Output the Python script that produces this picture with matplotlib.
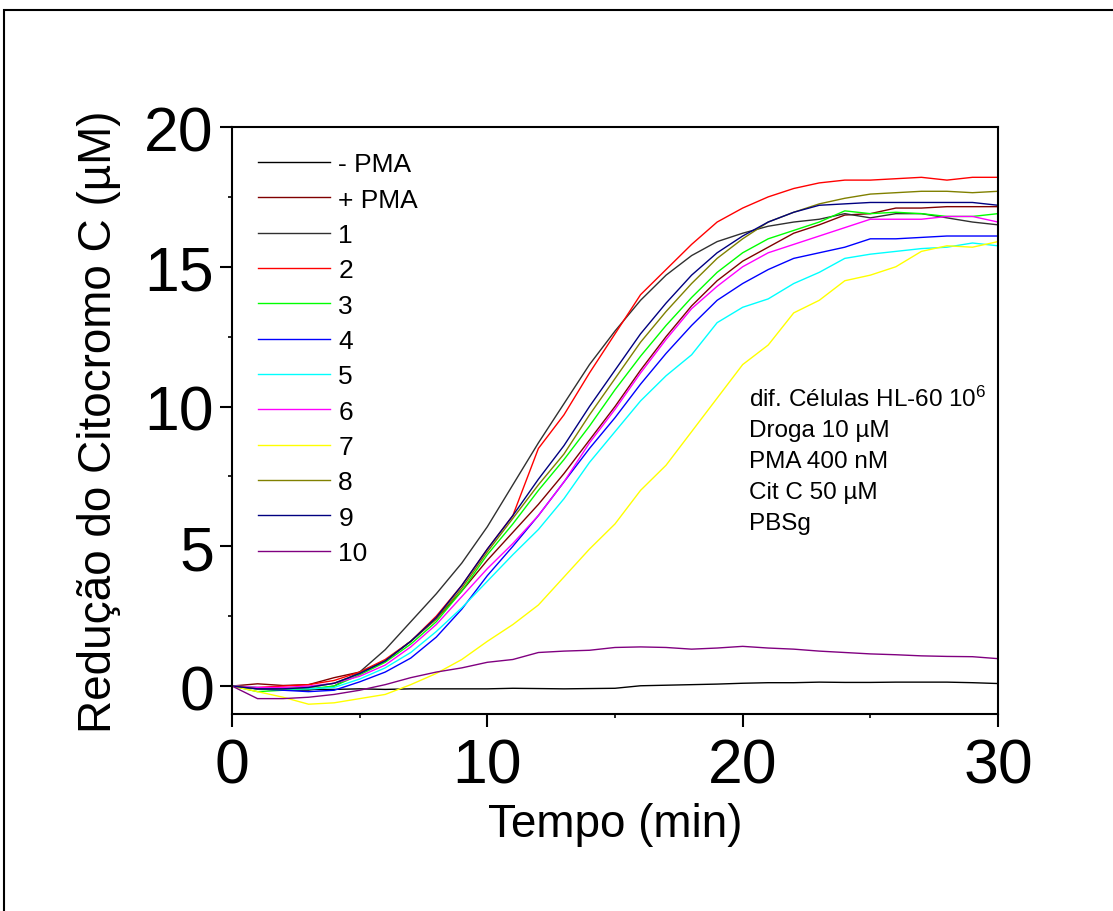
import numpy as np
import matplotlib
matplotlib.use("Agg")
import matplotlib.pyplot as plt
from matplotlib.patches import Rectangle
from matplotlib.ticker import MultipleLocator

plt.rcParams['font.family'] = ['Liberation Sans', 'DejaVu Sans']
plt.rcParams['mathtext.fontset'] = 'custom'
plt.rcParams['mathtext.rm'] = 'Liberation Sans'
plt.rcParams['mathtext.default'] = 'regular'

# time (min), one reading per minute
tempo = np.arange(0, 31)

minus_pma = [0, -0.08, -0.15, -0.12, -0.12, -0.1, -0.12, -0.1, -0.1, -0.1, -0.1,
             -0.08, -0.09, -0.1, -0.09, -0.08, 0.01, 0.03, 0.05, 0.07, 0.1,
             0.12, 0.12, 0.14, 0.13, 0.13, 0.14, 0.14, 0.14, 0.12, 0.09]
plus_pma = [0, 0.08, 0.02, 0.05, 0.3, 0.5, 0.9, 1.6, 2.4, 3.4, 4.5,
            5.5, 6.5, 7.6, 8.8, 10.0, 11.3, 12.5, 13.6, 14.5, 15.2,
            15.7, 16.2, 16.5, 16.85, 16.9, 17.1, 17.1, 17.15, 17.15, 17.15]
droga_1 = [0, -0.1, -0.15, -0.15, 0.0, 0.5, 1.3, 2.3, 3.3, 4.4, 5.7,
           7.2, 8.7, 10.1, 11.5, 12.7, 13.8, 14.7, 15.4, 15.9, 16.2,
           16.45, 16.6, 16.7, 16.9, 16.75, 16.9, 16.9, 16.75, 16.6, 16.5]
droga_2 = [0, -0.05, 0.0, 0.05, 0.2, 0.5, 0.95, 1.6, 2.5, 3.6, 4.9,
           6.1, 8.5, 9.7, 11.2, 12.6, 14.0, 14.9, 15.8, 16.6, 17.1,
           17.5, 17.8, 18.0, 18.1, 18.1, 18.15, 18.2, 18.1, 18.2, 18.2]
droga_3 = [0, -0.2, -0.15, -0.1, 0.0, 0.4, 0.85, 1.5, 2.3, 3.4, 4.7,
           5.8, 7.0, 8.1, 9.3, 10.6, 11.8, 12.9, 13.9, 14.8, 15.5,
           16.0, 16.3, 16.6, 17.0, 16.9, 16.95, 16.9, 16.8, 16.8, 16.9]
droga_4 = [0, -0.1, -0.15, -0.2, -0.15, 0.15, 0.5, 1.0, 1.75, 2.75, 3.95,
           5.0, 6.1, 7.3, 8.5, 9.6, 10.8, 11.9, 12.9, 13.8, 14.4,
           14.9, 15.3, 15.5, 15.7, 16.0, 16.0, 16.05, 16.1, 16.1, 16.1]
droga_5 = [0, -0.05, -0.1, -0.1, -0.05, 0.25, 0.65, 1.2, 1.95, 2.8, 3.75,
           4.7, 5.6, 6.7, 8.0, 9.1, 10.2, 11.1, 11.85, 13.0, 13.55,
           13.85, 14.4, 14.8, 15.3, 15.45, 15.55, 15.65, 15.7, 15.85, 15.75]
droga_6 = [0, -0.05, -0.05, 0.0, 0.1, 0.35, 0.75, 1.4, 2.2, 3.2, 4.2,
           5.1, 6.1, 7.3, 8.7, 9.9, 11.2, 12.4, 13.5, 14.3, 15.0,
           15.5, 15.8, 16.1, 16.4, 16.7, 16.7, 16.7, 16.8, 16.8, 16.6]
droga_7 = [0, -0.2, -0.4, -0.65, -0.6, -0.45, -0.3, 0.05, 0.45, 0.95, 1.6,
           2.2, 2.9, 3.9, 4.9, 5.8, 7.0, 7.9, 9.1, 10.3, 11.5,
           12.2, 13.35, 13.8, 14.5, 14.7, 15.0, 15.55, 15.75, 15.7, 15.9]
droga_8 = [0, -0.1, -0.1, -0.05, 0.1, 0.45, 0.9, 1.6, 2.4, 3.5, 4.8,
           6.0, 7.2, 8.3, 9.7, 11.0, 12.3, 13.4, 14.4, 15.3, 16.0,
           16.6, 16.95, 17.25, 17.45, 17.6, 17.65, 17.7, 17.7, 17.65, 17.7]
droga_9 = [0, -0.1, -0.1, -0.05, 0.1, 0.45, 0.9, 1.6, 2.45, 3.6, 4.9,
           6.1, 7.4, 8.6, 10.0, 11.3, 12.6, 13.7, 14.7, 15.5, 16.1,
           16.6, 16.95, 17.2, 17.25, 17.3, 17.3, 17.3, 17.3, 17.3, 17.2]
droga_10 = [0, -0.45, -0.45, -0.4, -0.3, -0.15, 0.05, 0.3, 0.5, 0.65, 0.85,
            0.95, 1.2, 1.25, 1.28, 1.38, 1.4, 1.38, 1.32, 1.36, 1.42,
            1.36, 1.32, 1.25, 1.2, 1.15, 1.12, 1.08, 1.06, 1.05, 0.98]

labels = ['- PMA', '+ PMA', '1', '2', '3', '4', '5', '6', '7', '8', '9', '10']
colors = ['#000000', '#800000', '#303030', '#ff0000', '#00ff00', '#0000ff',
          '#00ffff', '#ff00ff', '#ffff00', '#808000', '#000080', '#800080']
series = [minus_pma, plus_pma, droga_1, droga_2, droga_3, droga_4,
          droga_5, droga_6, droga_7, droga_8, droga_9, droga_10]

condicoes = [r'dif. Células HL-60 10$^6$', 'Droga 10 µM', 'PMA 400 nM',
             'Cit C 50 µM', 'PBSg']

fig = plt.figure(figsize=(11.13, 9.12), dpi=100)
ax = fig.add_axes([232 / 1113, 1 - 715 / 912, 766 / 1113, 587 / 912])

for y, c, lab in zip(series, colors, labels):
    ax.plot(tempo, y, color=c, lw=1.0, label=lab)

ax.set_xlim(0, 30)
ax.set_ylim(-1, 20)
ax.xaxis.set_major_locator(MultipleLocator(10))
ax.xaxis.set_minor_locator(MultipleLocator(5))
ax.yaxis.set_major_locator(MultipleLocator(5))
ax.yaxis.set_minor_locator(MultipleLocator(2.5))
ax.tick_params(which='major', direction='out', length=9, width=1.5,
               labelsize=45, pad=4)
ax.tick_params(axis='x', which='major', pad=7)
ax.tick_params(which='minor', direction='out', length=3, width=1.2)
ax.tick_params(axis='y', which='both', left=True, right=False)
ax.tick_params(axis='x', which='both', bottom=True, top=False)
for s in ax.spines.values():
    s.set_linewidth(1.5)

ax.set_xlabel('Tempo (min)', fontsize=33, labelpad=5)
ax.set_ylabel('Redução do Citocromo C (µM)', fontsize=33, labelpad=17)

ax.legend(loc='upper left', bbox_to_anchor=(0.02, 0.975), frameon=False,
          fontsize=19, handlelength=2.75, handletextpad=0.3,
          labelspacing=0.43, borderaxespad=0)

for i, txt in enumerate(condicoes):
    ax.text(0.675, 0.537 - i * 0.0528, txt, transform=ax.transAxes,
            fontsize=17.5, va='center', ha='left')

# outer frame of the original figure
fig.add_artist(Rectangle((4 / 1113, -0.1), 2.0, 1 - 11 / 912 + 0.1,
                         transform=fig.transFigure, fill=False,
                         edgecolor='black', lw=1.5))

fig.savefig('out.png', dpi=100)
